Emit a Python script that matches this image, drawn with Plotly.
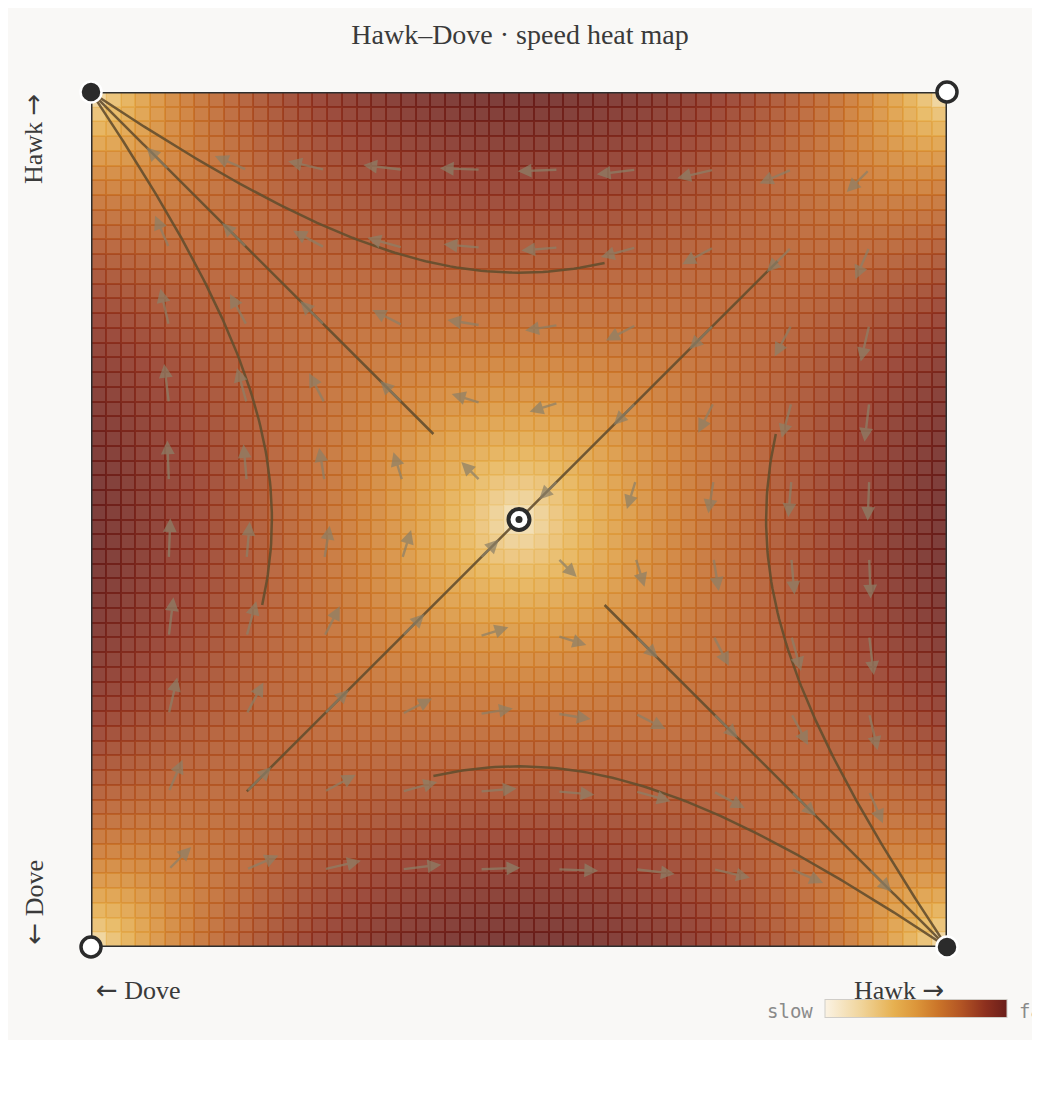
import numpy as np
import plotly.graph_objects as go

# Hawk-Dove game, two populations: x = share of hawks in pop. 1, y = share in pop. 2
value_V = 2.0   # value of the resource
cost_C = 4.0    # cost of a fight

n_cells = 58      # heat map resolution
arrow_div = 11    # arrows sit at k/11, k = 1..10

# fixed points
stable_x = [0, 1]
stable_y = [1, 0]
unstable_x = [0, 1]
unstable_y = [0, 1]
saddle_x = [0.5]
saddle_y = [0.5]

# start points of the drawn trajectories
traj_x0 = [0.4, 0.6, 0.2, 0.6, 0.4, 0.8, 0.182, 0.802]
traj_y0 = [0.6, 0.8, 0.4, 0.4, 0.2, 0.6, 0.182, 0.802]

# colour ramp of the legend (slow -> fast)
ramp_pos = [0.0, 0.2, 0.38, 0.5, 0.62, 0.75, 0.88, 1.0]
ramp_col = ["#fbf3e4", "#f0d49a", "#e6b050", "#dc963a", "#cb7529", "#b25424", "#8e301e", "#6a1e1a"]

PAPER = "#f9f8f6"
INK = "#3a3a3a"


def field(x, y):
    dx = x * (1 - x) * (value_V / 2 - cost_C / 2 * y)
    dy = y * (1 - y) * (value_V / 2 - cost_C / 2 * x)
    return dx, dy


def hex2rgb(h):
    h = h.lstrip("#")
    return [int(h[i:i + 2], 16) for i in (0, 2, 4)]


def blend(h, other, t):
    a, b = hex2rgb(h), hex2rgb(other)
    c = [round(a[k] * (1 - t) + b[k] * t) for k in range(3)]
    return "rgb(%d,%d,%d)" % tuple(c)


scale_full = [[p, c] for p, c in zip(ramp_pos, ramp_col)]
scale_cell = [[p, blend(c, PAPER, 0.15)] for p, c in zip(ramp_pos, ramp_col)]

# speed on the cell grid
centers = (np.arange(n_cells) + 0.5) / n_cells
gx, gy = np.meshgrid(centers, centers)
u, v = field(gx, gy)
speed = np.hypot(u, v)
z = np.sqrt(speed / speed.max())

# page pixel -> plot-area fraction (plot area spans 91..947 on the page)
def fx(px):
    return (px - 91) / 856


def fy(py):
    return (947 - py) / 855


fig = go.Figure()

# under layer shows through the cell gaps
fig.add_trace(go.Heatmap(
    x=centers, y=centers, z=z, zmin=0, zmax=1, colorscale=scale_full,
    hoverinfo="skip",
    colorbar=dict(orientation="h", x=fx(916), xanchor="center", y=fy(1009), yanchor="middle",
                  len=182, lenmode="pixels", thickness=18, outlinewidth=1,
                  outlinecolor="#d0cdc8", showticklabels=False, ticks="", xpad=0, ypad=0),
))
fig.add_trace(go.Heatmap(
    x=centers, y=centers, z=z, zmin=0, zmax=1, colorscale=scale_cell,
    xgap=2, ygap=2, showscale=False, hoverinfo="skip",
))

# frame of the unit square (drawn as a trace so the node markers sit on top)
fig.add_trace(go.Scatter(x=[0, 1, 1, 0, 0], y=[0, 0, 1, 1, 0], mode="lines", cliponaxis=False,
                         hoverinfo="skip", line=dict(color="#2e2e2e", width=3)))

# trajectories (RK4)
tx, ty = [], []
dt = 0.05
for x0, y0 in zip(traj_x0, traj_y0):
    px, py = x0, y0
    tx.append(px)
    ty.append(py)
    for _ in range(700):
        k1 = field(px, py)
        k2 = field(px + dt / 2 * k1[0], py + dt / 2 * k1[1])
        k3 = field(px + dt / 2 * k2[0], py + dt / 2 * k2[1])
        k4 = field(px + dt * k3[0], py + dt * k3[1])
        px += dt / 6 * (k1[0] + 2 * k2[0] + 2 * k3[0] + k4[0])
        py += dt / 6 * (k1[1] + 2 * k2[1] + 2 * k3[1] + k4[1])
        tx.append(px)
        ty.append(py)
    tx.append(None)
    ty.append(None)

fig.add_trace(go.Scatter(x=tx, y=ty, mode="lines", hoverinfo="skip",
                         line=dict(color="rgba(100,78,46,0.9)", width=2.5)))

# direction arrows
max_speed = value_V / 2 * 0.25
arrows = []
for i in range(1, arrow_div):
    for j in range(1, arrow_div):
        ax0, ay0 = i / arrow_div, j / arrow_div
        du, dv = field(ax0, ay0)
        s = np.hypot(du, dv)
        L = (24 + 20 * s / max_speed) / 856
        arrows.append(dict(
            x=ax0 + du / s * L, y=ay0 + dv / s * L, ax=ax0, ay=ay0,
            xref="x", yref="y", axref="x", ayref="y", text="", showarrow=True,
            arrowhead=2, arrowsize=1.15, arrowwidth=2.4,
            arrowcolor="rgba(140,128,104,0.72)",
        ))

# fixed points
fig.add_trace(go.Scatter(x=stable_x, y=stable_y, mode="markers", cliponaxis=False, hoverinfo="skip",
                         marker=dict(size=21, color="#2b2b2b", line=dict(color="white", width=2.5))))
fig.add_trace(go.Scatter(x=unstable_x, y=unstable_y, mode="markers", cliponaxis=False, hoverinfo="skip",
                         marker=dict(size=20, color="white", line=dict(color="#2b2b2b", width=3.5))))
fig.add_trace(go.Scatter(x=saddle_x, y=saddle_y, mode="markers", cliponaxis=False, hoverinfo="skip",
                         marker=dict(size=21, color="white", line=dict(color="#2b2b2b", width=4))))
fig.add_trace(go.Scatter(x=saddle_x, y=saddle_y, mode="markers", cliponaxis=False, hoverinfo="skip",
                         marker=dict(size=7, color="#2b2b2b")))

serif = dict(family="Liberation Serif, DejaVu Serif, serif", size=26, color=INK)
mono = dict(family="DejaVu Sans Mono, monospace", size=19, color="#8a8a8a")
left_arrow = "<span style='font-family:DejaVu Sans'>←</span>"
right_arrow = "<span style='font-family:DejaVu Sans'>→</span>"
labels = [
    dict(text=left_arrow + " Dove", x=fx(94), y=fy(990), xanchor="left", yanchor="middle", font=serif),
    dict(text="Hawk " + right_arrow, x=fx(946), y=fy(990), xanchor="right", yanchor="middle", font=serif),
    dict(text="Hawk " + right_arrow, x=fx(33), y=1.0, xanchor="center", yanchor="top", textangle=-90, font=serif),
    dict(text=left_arrow + " Dove", x=fx(33), y=0.0, xanchor="center", yanchor="bottom", textangle=-90, font=serif),
    dict(text="slow", x=fx(815), y=fy(1011), xanchor="right", yanchor="middle", font=mono),
    dict(text="fast", x=fx(1017), y=fy(1011), xanchor="left", yanchor="middle", font=mono),
]
for a in labels:
    a.update(xref="paper", yref="paper", showarrow=False)

axis = dict(range=[0, 1], showgrid=False, zeroline=False, showticklabels=False, ticks="",
            showline=False, fixedrange=True)

# the page adds an 8px body margin, so the figure is shifted by that amount
fig.update_layout(
    width=1032, height=1032,
    margin=dict(l=83, r=93, t=84, b=93),
    paper_bgcolor=PAPER, plot_bgcolor=PAPER,
    showlegend=False,
    title=dict(text="Hawk–Dove · speed heat map", x=(520 - 8) / 1032, xanchor="center", y=0.9745,
               yanchor="middle",
               font=dict(family="Liberation Serif, DejaVu Serif, serif", size=28, color=INK)),
    xaxis=axis, yaxis=axis,
    annotations=arrows + labels,
)

fig.write_html("out.html")
